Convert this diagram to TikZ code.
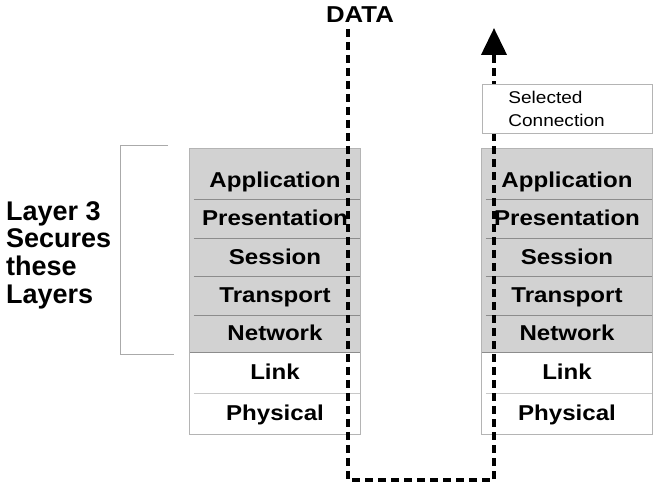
\documentclass[tikz,border=0pt]{standalone}
\usepackage{fontspec}
\setmainfont{Liberation Sans}
\newfontfamily\widefont[FakeStretch=1.12]{Liberation Sans}
\usetikzlibrary{arrows.meta}
\definecolor{layerfill}{HTML}{D2D2D2}
\definecolor{frameline}{HTML}{B4B4B4}
\definecolor{sepdark}{HTML}{8C8C8C}
\definecolor{seplight}{HTML}{C8C8C8}
\definecolor{bracketline}{HTML}{AAAAAA}

\begin{document}
\begin{tikzpicture}[x=1pt,y=-1pt,
  layer/.style={minimum width=170pt, inner sep=0pt, text height=15pt, text depth=0pt,
    font=\widefont\bfseries\fontsize{21.5}{21.5}\selectfont},
  secured/.style={layer, fill=layerfill},
  open/.style={layer, fill=white},
  stackframe/.style={draw=frameline, line width=0.8pt},
  sepline/.style={draw=sepdark, line width=0.8pt},
  seplite/.style={draw=seplight, line width=0.8pt},
  dataflow/.style={line width=4pt, dash pattern=on 8pt off 5pt, line join=miter,
    -{Triangle[length=27pt,width=25pt]}},
  selbox/.style={draw=frameline, fill=white, line width=0.8pt, minimum width=170pt,
    minimum height=49pt, text width=118pt, inner xsep=26pt, inner ysep=0pt, align=left,
    font=\widefont\fontsize{17}{23}\selectfont},
  title/.style={inner sep=0pt, font=\widefont\bfseries\fontsize{23}{23}\selectfont},
  sidelabel/.style={inner sep=0pt, align=left, font=\bfseries\fontsize{27}{27.7}\selectfont}
]
\useasboundingbox (0,0) rectangle (654,486);

% two protocol stacks: left at x=275, right at x=567
\foreach \s/\cx in {L/275, R/567}{
  \node[secured, minimum height=50pt, text height=27pt] (\s1) at (\cx,174) {Application};
  \node[secured, minimum height=39pt] (\s2) at (\cx,218.5) {Presentation};
  \node[secured, minimum height=38pt] (\s3) at (\cx,257) {Session};
  \node[secured, minimum height=39pt] (\s4) at (\cx,295.5) {Transport};
  \node[secured, minimum height=37pt] (\s5) at (\cx,333.5) {Network};
  \node[open, minimum height=41pt] (\s6) at (\cx,372.5) {Link};
  \node[open, minimum height=41pt] (\s7) at (\cx,413.5) {Physical};
  \foreach \i in {1,...,4}{
    \draw[sepline] ([xshift=4pt]\s\i.south west) -- (\s\i.south east);
  }
  \draw[sepline] (\s5.south west) -- (\s5.south east);
  \draw[seplite] ([xshift=4pt]\s6.south west) -- (\s6.south east);
  \draw[stackframe] (\s1.north west) rectangle (\s7.south east);
}

% bracket marking the secured layers
\coordinate (brTop) at (168,145);
\coordinate (brBot) at (174,354);
\draw[bracketline, line width=0.9pt] (brTop) -- (120,145) -- (120,354) -- (brBot);

\node[sidelabel, anchor=west] (secures) at (6,255) {Layer 3\\Secures\\these\\Layers};

% data path through both stacks
\node[title] (data) at (360,15) {DATA};
\coordinate (start) at (348,29);
\coordinate (turnL) at (348,480);
\coordinate (turnR) at (494,480);
\coordinate (exit) at (494,28);
\draw[dataflow] (start) -- (turnL) -- (turnR) -- (exit);

\node[selbox, anchor=north west] (sel) at (482,84) {Selected\\Connection};
\end{tikzpicture}
\end{document}
